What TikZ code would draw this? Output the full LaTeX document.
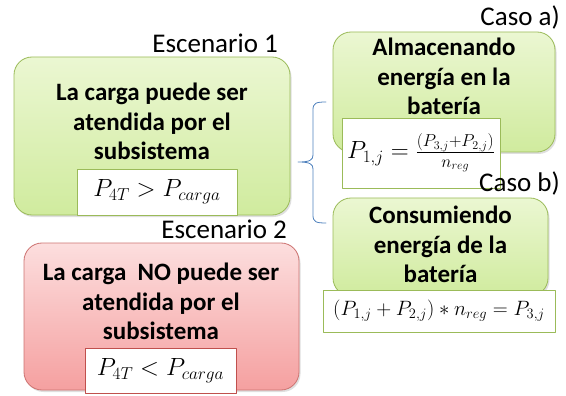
\documentclass[tikz,border=0pt]{standalone}
\usepackage{fontspec}
\setmainfont{Carlito}
\usetikzlibrary{positioning,shadows}
\definecolor{verdeBorde}{HTML}{9BBB59}
\definecolor{verdeClaro}{HTML}{EBF7D2}
\definecolor{verdeOscuro}{HTML}{D0EB9E}
\definecolor{rojoBorde}{HTML}{C0504D}
\definecolor{rojoClaro}{HTML}{FCDEDE}
\definecolor{rojoOscuro}{HTML}{F5A0A0}
\definecolor{azulLlave}{HTML}{4F81BD}
\begin{document}
\begin{tikzpicture}[x=1pt,y=-1pt, line join=round, line cap=round,
	cajaV/.style={draw=verdeBorde, line width=0.8pt, rounded corners=18pt, top color=verdeClaro, bottom color=verdeOscuro, drop shadow={opacity=0.25, shadow xshift=1.5pt, shadow yshift=-2pt}},
	cajaR/.style={draw=rojoBorde!80, line width=0.8pt, rounded corners=18pt, top color=rojoClaro, bottom color=rojoOscuro, drop shadow={opacity=0.25, shadow xshift=1.5pt, shadow yshift=-2pt}},
	texto/.style={anchor=north, align=center, inner sep=0pt, font=\fontsize{25}{29.5}\selectfont\bfseries},
	etiqueta/.style={anchor=base east, inner sep=0pt, font=\fontsize{27}{30}\selectfont},
	formula/.style={draw=#1, fill=white, line width=0.6pt, inner sep=0pt, font=\fontsize{22}{25}\selectfont},
	llave/.style={draw=azulLlave, line width=0.8pt}]
	\useasboundingbox (0,0) rectangle (566,396);
	% escenario 1
	\node[cajaV, minimum width=276pt, minimum height=158pt] (esc1) at (152,136) {};
	\node[texto] (txt1) at (152,83) {La carga puede ser\\atendida por el\\subsistema};
	\node[formula=verdeBorde, minimum width=160pt, minimum height=46pt, font=\fontsize{23}{26}\selectfont] (form1) at (157,192) {$P_{4T} > P_{carga}$};
	\node[etiqueta] (lab1) at (278,53) {Escenario 1};
	% escenario 2
	\node[etiqueta] (lab2) at (287,238) {Escenario 2};
	\node[cajaR, minimum width=275pt, minimum height=147pt] (esc2) at (161.5,316.5) {};
	\node[texto] (txt2) at (161,263) {La carga\ \ NO puede ser\\atendida por el\\subsistema};
	\node[formula=rojoBorde, minimum width=151pt, minimum height=45pt, font=\fontsize{23}{26}\selectfont] (form2) at (160.5,370.5) {$P_{4T} < P_{carga}$};
	% caso a
	\node[etiqueta] (labA) at (560,26) {Caso a)};
	\node[cajaV, minimum width=222pt, minimum height=120pt] (casoA) at (444,92) {};
	\node[texto] (txtA) at (444,38) {Almacenando\\energía en la\\batería};
	\node[formula=verdeBorde, minimum width=158pt, minimum height=70pt, font=\fontsize{25}{28}\selectfont] (formA) at (421,153) {$P_{1,j} = \frac{(P_{3,j}+P_{2,j})}{n_{reg}}$};
	% caso b
	\node[etiqueta] (labB) at (560,192) {Caso b)};
	\node[cajaV, minimum width=215pt, minimum height=98pt] (casoB) at (440.5,247) {};
	\node[texto] (txtB) at (440.5,206) {Consumiendo\\energía de la\\batería};
	\node[formula=verdeBorde, minimum width=232pt, minimum height=42pt, font=\fontsize{22}{25}\selectfont] (formB) at (439,311) {$(P_{1,j}+P_{2,j})*n_{reg}=P_{3,j}$};
	% llave
	\draw[llave] (326,102) .. controls (316,102) and (313,103) .. (313,110) -- (313,155)
		.. controls (313,160) and (310,162) .. (298,162)
		.. controls (310,162) and (313,164) .. (313,169) -- (313,215)
		.. controls (313,222) and (316,223) .. (326,223);
\end{tikzpicture}
\end{document}
